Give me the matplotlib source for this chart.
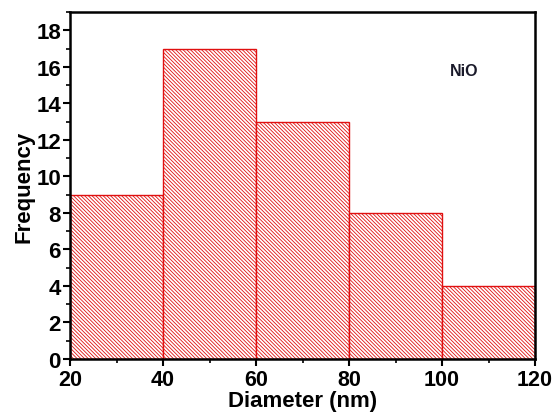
import matplotlib
matplotlib.use("Agg")
import matplotlib.pyplot as plt
from matplotlib.ticker import MultipleLocator

bin_edges = [20, 40, 60, 80, 100, 120]
frequency = [9, 17, 13, 8, 4]
xticks = [20, 40, 60, 80, 100, 120]
yticks = [0, 2, 4, 6, 8, 10, 12, 14, 16, 18]

plt.rcParams['font.family'] = ['Liberation Sans', 'DejaVu Sans']
plt.rcParams['hatch.linewidth'] = 0.6

fig = plt.figure(figsize=(5.57, 4.14), dpi=100)
ax = fig.add_axes([0.1257, 0.1304, 0.8348, 0.8382])

widths = [bin_edges[i+1] - bin_edges[i] for i in range(len(frequency))]
ax.bar(bin_edges[:-1], frequency, width=widths, align='edge',
       facecolor='white', edgecolor='#e01010', linewidth=1.0, hatch='\\' * 9)

ax.set_xlim(20, 120)
ax.set_ylim(0, 19)
ax.set_xticks(xticks)
ax.set_yticks(yticks)
ax.xaxis.set_minor_locator(MultipleLocator(10))
ax.yaxis.set_minor_locator(MultipleLocator(1))
ax.tick_params(which='major', direction='out', length=5, width=1.5, labelsize=16, pad=1.5)
ax.tick_params(axis='x', which='major', pad=2, labelsize=15.5)
ax.tick_params(which='minor', direction='out', length=3, width=1.2)
for lbl in ax.get_xticklabels() + ax.get_yticklabels():
    lbl.set_fontweight('bold')
for s in ax.spines.values():
    s.set_linewidth(1.8)

ax.set_xlabel('Diameter (nm)', fontsize=16, fontweight='bold', labelpad=0.5)
ax.set_ylabel('Frequency', fontsize=16, fontweight='bold', labelpad=1)
ax.text(0.847, 0.83, 'NiO', transform=ax.transAxes, fontsize=11.5, fontweight='bold',
        ha='center', va='center', color='#1a1a2a')

fig.savefig('out.png', dpi=100)
